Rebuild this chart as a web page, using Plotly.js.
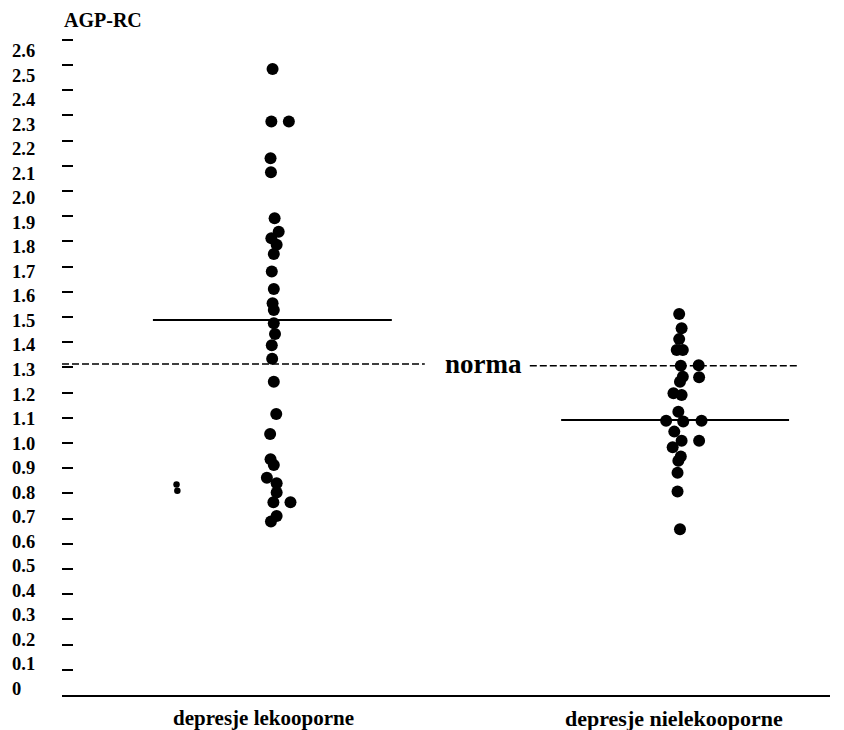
<!DOCTYPE html>
<html>
<head>
<meta charset="utf-8">
<script src="https://cdn.plot.ly/plotly-3.0.1.min.js"></script>
<style>html,body{margin:0;padding:0;background:#fff;}#chart{width:844px;height:730px;}</style>
</head>
<body>
<div id="chart"></div>
<script>
// ---- data ----
const categories = ["depresje lekooporne", "depresje nielekooporne"];
const yTickLabels = ["0","0.1","0.2","0.3","0.4","0.5","0.6","0.7","0.8","0.9","1.0","1.1","1.2","1.3","1.4","1.5","1.6","1.7","1.8","1.9","2.0","2.1","2.2","2.3","2.4","2.5","2.6"];
const yTickValues = [0,0.1,0.2,0.3,0.4,0.5,0.6,0.7,0.8,0.9,1.0,1.1,1.2,1.3,1.4,1.5,1.6,1.7,1.8,1.9,2.0,2.1,2.2,2.3,2.4,2.5,2.6];

// group 1: depresje lekooporne
const g1Values = [2.484,2.275,2.275,2.130,2.074,1.892,1.838,1.812,1.786,1.750,1.680,1.611,1.554,1.528,1.475,1.432,1.388,1.334,1.243,1.115,1.036,0.935,0.913,0.862,0.840,0.803,0.765,0.765,0.710,0.688];
const g1Jitter = [-0.001,-0.004,0.039,-0.006,-0.005,0.004,0.014,-0.004,0.009,0.002,-0.003,0.002,-0.001,0.002,0.002,0.005,-0.003,-0.002,0.002,0.008,-0.007,-0.006,0.002,-0.015,0.009,0.009,0.001,0.043,0.009,-0.005];

// group 2: depresje nielekooporne
const g2Values = [1.512,1.455,1.412,1.369,1.369,1.306,1.308,1.263,1.261,1.243,1.197,1.190,1.124,1.088,1.085,1.088,1.045,1.009,1.009,0.983,0.946,0.929,0.882,0.807,0.658];
const g2Jitter = [-0.002,0.004,-0.002,-0.008,0.007,0.002,0.046,0.007,0.047,0.000,-0.016,0.004,-0.004,-0.034,0.008,0.053,-0.014,0.004,0.047,-0.018,0.002,-0.004,-0.006,-0.006,0.000];

// stray mark left of group 1
const strayX = [0.763, 0.765];
const strayY = [0.835, 0.810];

// group means and the norm
const meanValues = [1.488, 1.091];
const normaValues = [1.313, 1.306];
const normaLabel = "norma";
const yTitle = "AGP-RC";

// ---- layout helpers ----
const W = 844, H = 730;
const mL = 62, mR = 14, mT = 15, mB = 35;
const plotW = W - mL - mR, plotH = H - mT - mB;
const xRange = [0.4816, 2.3686];
const yRange = [0, 2.698];
const y2Range = [-0.0245, 2.7466]; // scale used for the (skewed) tick labels

const serif = "Liberation Serif, Times New Roman, serif";

const traces = [
  {
    x: g1Values.map((v, i) => 1 + g1Jitter[i]),
    y: g1Values,
    mode: "markers", type: "scatter",
    marker: {size: 12, color: "#000"},
    hoverinfo: "y", showlegend: false
  },
  {
    x: g2Values.map((v, i) => 2 + g2Jitter[i]),
    y: g2Values,
    mode: "markers", type: "scatter",
    marker: {size: 12, color: "#000"},
    hoverinfo: "y", showlegend: false
  },
  {
    x: strayX, y: strayY,
    mode: "markers", type: "scatter",
    marker: {size: 6.5, color: "#000"},
    hoverinfo: "skip", showlegend: false
  }
];

const shapes = [
  // mean lines
  {type: "line", xref: "x", yref: "y", x0: 0.705, x1: 1.292, y0: meanValues[0], y1: meanValues[0], line: {color: "#000", width: 2}},
  {type: "line", xref: "x", yref: "y", x0: 1.708, x1: 2.268, y0: meanValues[1], y1: meanValues[1], line: {color: "#000", width: 2}},
  // norma dashed segments
  {type: "line", xref: "x", yref: "y", x0: 0.4816, x1: 1.373, y0: normaValues[0], y1: normaValues[0], line: {color: "#000", width: 1.5, dash: "7px,3px"}},
  {type: "line", xref: "x", yref: "y", x0: 1.631, x1: 2.290, y0: normaValues[1], y1: normaValues[1], line: {color: "#000", width: 1.5, dash: "7px,3px"}}
];

const annotations = [];
// y tick labels, left aligned
yTickLabels.forEach((t, i) => {
  annotations.push({
    text: "<b>" + t + "</b>", xref: "paper", yref: "y2",
    x: (10 - mL) / plotW, y: yTickValues[i],
    xanchor: "left", yanchor: "middle", showarrow: false,
    font: {family: serif, size: 18.5, color: "#000"}
  });
});
// axis title
annotations.push({
  text: "<b>" + yTitle + "</b>", xref: "paper", yref: "paper",
  x: 0, y: (H - mB - 20) / plotH, xanchor: "left", yanchor: "middle", showarrow: false,
  font: {family: serif, size: 20, color: "#000"}
});
// norma label
annotations.push({
  text: "<b>" + normaLabel + "</b>", xref: "x", yref: "y",
  x: 1.518, y: normaValues[0], xanchor: "center", yanchor: "middle", showarrow: false,
  font: {family: serif, size: 27, color: "#000"}
});
// category labels
const catShift = [-9, -6];
const catSize = [21, 22];
categories.forEach((c, i) => {
  annotations.push({
    text: "<b>" + c + "</b>", xref: "x", yref: "paper",
    x: i + 1, y: -(718 - (H - mB)) / plotH, xshift: catShift[i],
    xanchor: "center", yanchor: "middle", showarrow: false,
    font: {family: serif, size: catSize[i], color: "#000"}
  });
});

const layout = {
  width: W, height: H,
  margin: {l: mL, r: mR, t: mT, b: mB, pad: 0},
  paper_bgcolor: "#fff", plot_bgcolor: "#fff",
  showlegend: false,
  xaxis: {
    range: xRange, showgrid: false, zeroline: false,
    showline: true, linecolor: "#000", linewidth: 2,
    ticks: "", showticklabels: false, fixedrange: true
  },
  yaxis: {
    range: yRange, showgrid: false, zeroline: false, showline: false,
    tickmode: "array", tickvals: yTickValues,
    ticks: "inside", ticklen: 11, tickwidth: 2, tickcolor: "#000",
    showticklabels: false, fixedrange: true
  },
  yaxis2: {
    range: y2Range, overlaying: "y", side: "left", visible: false,
    showgrid: false, zeroline: false, fixedrange: true
  },
  shapes: shapes,
  annotations: annotations
};

Plotly.newPlot("chart", traces, layout, {displayModeBar: false, staticPlot: true});
</script>
</body>
</html>
